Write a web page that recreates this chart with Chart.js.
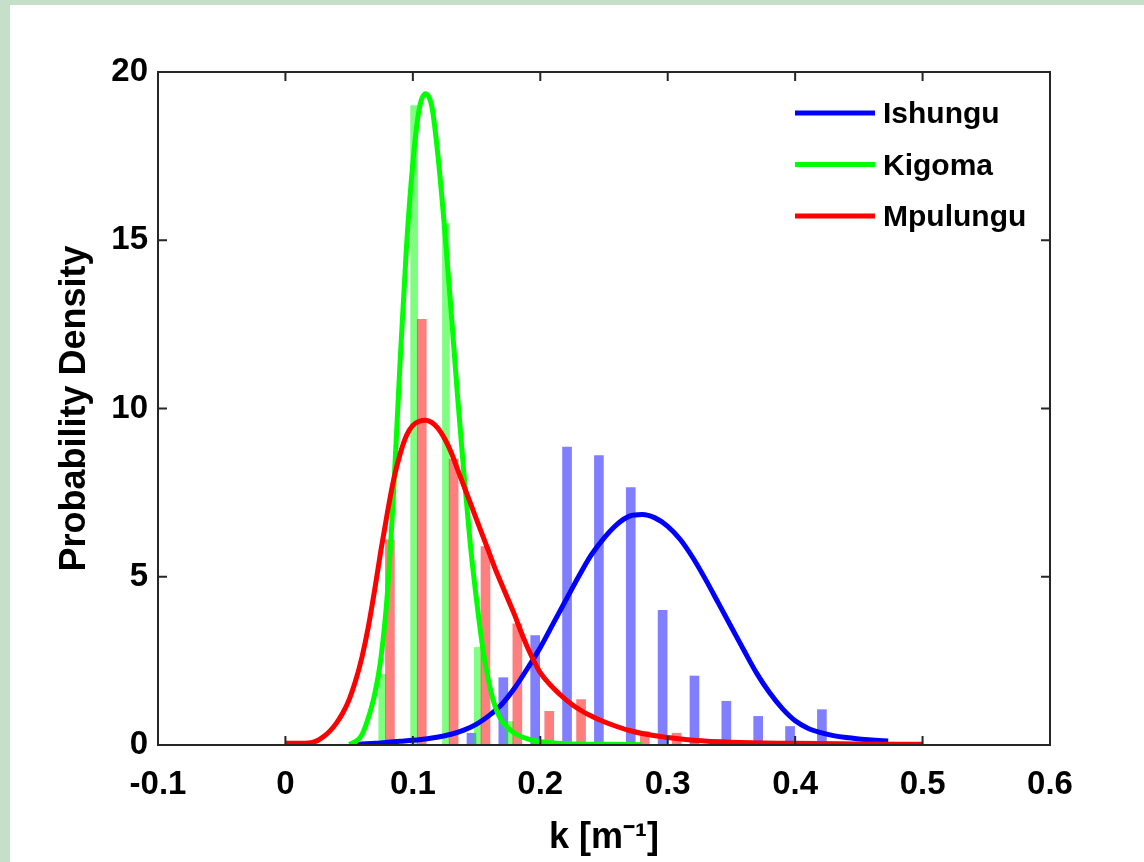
<!DOCTYPE html>
<html>
<head>
<meta charset="utf-8">
<script src="https://cdn.jsdelivr.net/npm/chart.js@4.4.1/dist/chart.umd.min.js"></script>
<style>
  html, body { margin: 0; padding: 0; background: #c5dfc8; }
  #wrap { position: absolute; left: 10px; top: 5px; width: 1134px; height: 857px; background: #fff; }
</style>
</head>
<body>
<div id="wrap"><canvas id="pdf-chart" width="1134" height="857"></canvas></div>
<script>
// histogram bins (bar centres) and heights
const binIshungu = [0.146, 0.171, 0.196, 0.221, 0.246, 0.271, 0.296, 0.321, 0.346, 0.371, 0.396, 0.421];
const histIshungu = [0.35, 2.0, 3.25, 8.85, 8.6, 7.65, 4.0, 2.05, 1.3, 0.85, 0.55, 1.05];
const binKigoma = [0.076, 0.101, 0.126, 0.151, 0.176];
const histKigoma = [2.1, 19.0, 15.5, 2.9, 0.7];
const binMpulungu = [0.082, 0.107, 0.132, 0.157, 0.182, 0.207, 0.232, 0.282, 0.307];
const histMpulungu = [6.1, 12.65, 8.5, 5.9, 3.6, 1.0, 1.35, 0.4, 0.35];

// fitted density curves
const kIshungu = [0.055, 0.07, 0.08, 0.09, 0.1, 0.11, 0.12, 0.13, 0.14, 0.15, 0.16, 0.17, 0.18, 0.19, 0.2, 0.21, 0.22, 0.23, 0.24, 0.25, 0.26, 0.27, 0.28, 0.29, 0.3, 0.31, 0.32, 0.33, 0.34, 0.35, 0.36, 0.37, 0.38, 0.39, 0.4, 0.41, 0.42, 0.43, 0.44, 0.45, 0.46, 0.473];
const pdfIshungu = [0.02, 0.05, 0.08, 0.11, 0.14, 0.18, 0.24, 0.32, 0.44, 0.62, 0.88, 1.22, 1.7, 2.28, 2.9, 3.6, 4.3, 5.0, 5.65, 6.15, 6.55, 6.8, 6.85, 6.75, 6.5, 6.1, 5.55, 4.9, 4.2, 3.5, 2.8, 2.12, 1.55, 1.08, 0.72, 0.5, 0.37, 0.28, 0.22, 0.18, 0.15, 0.12];
const kKigoma = [0.05, 0.055, 0.06, 0.065, 0.07, 0.075, 0.08, 0.085, 0.09, 0.095, 0.1, 0.105, 0.11, 0.115, 0.12, 0.125, 0.13, 0.135, 0.14, 0.145, 0.15, 0.155, 0.16, 0.165, 0.17, 0.18, 0.19, 0.2, 0.22, 0.25, 0.28];
const pdfKigoma = [0.02, 0.1, 0.3, 0.8, 1.5, 2.6, 4.5, 7.6, 11.4, 14.8, 17.3, 18.9, 19.35, 18.95, 17.4, 15.3, 12.9, 10.4, 8.1, 6.0, 4.3, 2.85, 1.8, 1.1, 0.7, 0.35, 0.18, 0.1, 0.04, 0.02, 0.01];
const kMpulungu = [0, 0.01, 0.02, 0.025, 0.03, 0.035, 0.04, 0.045, 0.05, 0.055, 0.06, 0.065, 0.07, 0.075, 0.08, 0.085, 0.09, 0.095, 0.1, 0.105, 0.11, 0.115, 0.12, 0.125, 0.13, 0.135, 0.14, 0.145, 0.15, 0.155, 0.16, 0.165, 0.17, 0.175, 0.18, 0.185, 0.19, 0.195, 0.2, 0.21, 0.22, 0.23, 0.24, 0.25, 0.26, 0.27, 0.28, 0.3, 0.32, 0.35, 0.4, 0.45, 0.5];
const pdfMpulungu = [0.05, 0.05, 0.07, 0.13, 0.25, 0.42, 0.65, 0.95, 1.35, 1.9, 2.6, 3.5, 4.6, 5.8, 6.9, 7.9, 8.65, 9.2, 9.5, 9.62, 9.65, 9.58, 9.4, 9.1, 8.7, 8.2, 7.7, 7.2, 6.7, 6.2, 5.7, 5.2, 4.75, 4.3, 3.85, 3.35, 2.9, 2.5, 2.15, 1.7, 1.35, 1.07, 0.86, 0.69, 0.55, 0.43, 0.34, 0.22, 0.14, 0.08, 0.05, 0.03, 0.02];

const xTicks = [-0.1, 0, 0.1, 0.2, 0.3, 0.4, 0.5, 0.6];
const yTicks = [0, 5, 10, 15, 20];

const fontFamily = "'Liberation Sans', Arial, Helvetica, sans-serif";
const pts = (xs, ys) => xs.map((x, i) => ({ x: x, y: ys[i] }));

const barSet = (label, xs, ys, color, width, order) => ({
  type: "bar", label: label, data: pts(xs, ys), backgroundColor: color,
  borderWidth: 0, barThickness: width, grouped: false, order: order,
});
const lineSet = (label, xs, ys, color, order) => ({
  type: "line", label: label, data: pts(xs, ys), borderColor: color,
  backgroundColor: color, borderWidth: 5, pointRadius: 0, fill: false,
  cubicInterpolationMode: "monotone", order: order,
});

// box frame, inward ticks and the in-plot legend
const boxPlugin = {
  id: "boxPlugin",
  afterDatasetsDraw(chart) {
    const { ctx, chartArea: a, scales: { x, y } } = chart;
    ctx.save();
    ctx.strokeStyle = "#262626";
    ctx.lineWidth = 2;
    ctx.beginPath();
    xTicks.forEach(v => {
      const px = x.getPixelForValue(v);
      ctx.moveTo(px, a.bottom); ctx.lineTo(px, a.bottom - 9);
      ctx.moveTo(px, a.top); ctx.lineTo(px, a.top + 9);
    });
    yTicks.forEach(v => {
      const py = y.getPixelForValue(v);
      ctx.moveTo(a.left, py); ctx.lineTo(a.left + 9, py);
      ctx.moveTo(a.right, py); ctx.lineTo(a.right - 9, py);
    });
    ctx.stroke();
    ctx.strokeRect(a.left, a.top, a.right - a.left, a.bottom - a.top);

    const lines = chart.data.datasets.filter(d => d.type === "line");
    ctx.font = "bold 30px " + fontFamily;
    ctx.textBaseline = "middle";
    ctx.fillStyle = "#000";
    lines.forEach((d, i) => {
      const ly = a.top + 41 + i * 51.5;
      ctx.strokeStyle = d.borderColor;
      ctx.lineWidth = 5;
      ctx.beginPath();
      ctx.moveTo(a.left + 637, ly);
      ctx.lineTo(a.left + 717, ly);
      ctx.stroke();
      ctx.fillText(d.label, a.left + 725, ly + 2);
    });
    ctx.restore();
  }
};

new Chart(document.getElementById("pdf-chart").getContext("2d"), {
  type: "bar",
  data: {
    datasets: [
      lineSet("Ishungu", kIshungu, pdfIshungu, "#0000ff", 3),
      lineSet("Kigoma", kKigoma, pdfKigoma, "#00ff00", 2),
      lineSet("Mpulungu", kMpulungu, pdfMpulungu, "#ff0000", 1),
      barSet("Ishungu histogram", binIshungu, histIshungu, "rgba(0,0,255,0.5)", 9, 6),
      barSet("Kigoma histogram", binKigoma, histKigoma, "rgba(0,255,0,0.5)", 7, 5),
      barSet("Mpulungu histogram", binMpulungu, histMpulungu, "rgba(255,0,0,0.5)", 9, 4),
    ],
  },
  options: {
    responsive: false,
    animation: false,
    layout: { padding: { left: 43, top: 67, right: 94, bottom: 0 } },
    plugins: { legend: { display: false }, tooltip: { enabled: false } },
    scales: {
      x: {
        type: "linear", min: -0.1, max: 0.6, offset: false,
        grid: { display: false, drawTicks: false },
        border: { display: false },
        ticks: {
          stepSize: 0.1, padding: 20, color: "#000", autoSkip: false, maxRotation: 0,
          font: { family: fontFamily, size: 33, weight: "bold" },
          callback: v => String(Math.round(v * 10) / 10),
        },
        title: {
          display: true, text: "k [m⁻¹]", color: "#000",
          font: { family: fontFamily, size: 36, weight: "bold" },
          padding: { top: 0, bottom: 2 },
        },
        afterFit: s => { s.height = 117; },
      },
      y: {
        min: 0, max: 20,
        grid: { display: false, drawTicks: false },
        border: { display: false },
        ticks: {
          stepSize: 5, padding: 10, color: "#000",
          font: { family: fontFamily, size: 33, weight: "bold" },
        },
        title: {
          display: true, text: "Probability Density", color: "#000",
          font: { family: fontFamily, size: 36, weight: "bold" },
          padding: { top: 0, bottom: 0 },
        },
        afterFit: s => { s.width = 105; },
      },
    },
  },
  plugins: [boxPlugin],
});
</script>
</body>
</html>
